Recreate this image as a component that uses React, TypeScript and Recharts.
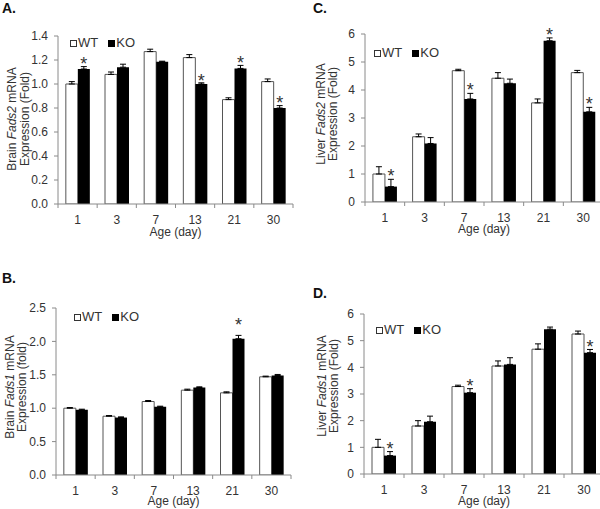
import React from 'react';
import { BarChart, Bar, XAxis, YAxis, ErrorBar, LabelList, Legend } from 'recharts';

const days = ['1', '3', '7', '13', '21', '30'];

// A. Brain Fads2
const brainFads2WT = [1.0, 1.08, 1.27, 1.22, 0.87, 1.02];
const brainFads2WTErr = [0.02, 0.02, 0.02, 0.025, 0.015, 0.022];
const brainFads2KO = [1.125, 1.14, 1.185, 1.0, 1.13, 0.8];
const brainFads2KOErr = [0.02, 0.025, 0.005, 0.01, 0.025, 0.02];
const brainFads2Sig = [true, false, false, true, true, true];

// B. Brain Fads1
const brainFads1WT = [1.0, 0.88, 1.1, 1.27, 1.23, 1.47];
const brainFads1WTErr = [0.01, 0.01, 0.015, 0.015, 0.015, 0.01];
const brainFads1KO = [0.975, 0.86, 1.02, 1.31, 2.04, 1.49];
const brainFads1KOErr = [0.01, 0.01, 0.01, 0.01, 0.05, 0.015];
const brainFads1Sig = [false, false, false, false, true, false];

// C. Liver Fads2
const liverFads2WT = [1.0, 2.33, 4.69, 4.42, 3.54, 4.62];
const liverFads2WTErr = [0.26, 0.1, 0.05, 0.2, 0.14, 0.08];
const liverFads2KO = [0.55, 2.09, 3.68, 4.24, 5.76, 3.22];
const liverFads2KOErr = [0.26, 0.21, 0.2, 0.15, 0.1, 0.16];
const liverFads2Sig = [true, false, true, false, true, true];

// D. Liver Fads1
const liverFads1WT = [1.0, 1.8, 3.28, 4.05, 4.68, 5.25];
const liverFads1WTErr = [0.3, 0.2, 0.05, 0.19, 0.2, 0.11];
const liverFads1KO = [0.69, 1.96, 3.05, 4.11, 5.43, 4.55];
const liverFads1KOErr = [0.15, 0.21, 0.15, 0.25, 0.08, 0.12];
const liverFads1Sig = [true, false, true, false, false, true];

const brainFads2Ticks = [0, 0.2, 0.4, 0.6, 0.8, 1.0, 1.2, 1.4];
const brainFads1Ticks = [0, 0.5, 1.0, 1.5, 2.0, 2.5];
const liverTicks = [0, 1, 2, 3, 4, 5, 6];

const FONT = '"Liberation Sans", Arial, sans-serif';
const TEXT = '#333';
const AXIS = '#8a8a8a';
const XAXIS_H = 28;

type Cfg = {
  letter: string;
  letterX: number;
  letterY: number;
  left: number;
  top: number;
  width: number;
  height: number;
  plot: { left: number; top: number; right: number; bottom: number };
  wt: number[];
  wtErr: number[];
  ko: number[];
  koErr: number[];
  sig: boolean[];
  yMax: number;
  yTicks: number[];
  digits: number;
  organ: string;
  gene: string;
  line2: string;
  labelX: [number, number];
  labelY: number;
  xTitleDy: number;
  legendX: number;
  legendY: number;
  starGap: number;
};

const XTick = (props: any) => {
  const { x, y, payload, index, band } = props;
  return (
    <g>
      <line x1={x - band / 2} x2={x - band / 2} y1={y} y2={y + 4} stroke={AXIS} />
      {index === days.length - 1 && (
        <line x1={x + band / 2} x2={x + band / 2} y1={y} y2={y + 4} stroke={AXIS} />
      )}
      <text x={x} y={y + 19.5} textAnchor="middle" fontSize={12} fill={TEXT} fontFamily={FONT}>
        {payload.value}
      </text>
    </g>
  );
};

const YTitle = ({ cfg }: any) => {
  const c: Cfg = cfg;
  const [x1, x2] = c.labelX;
  const cy = c.labelY;
  return (
    <g fontSize={12} fill={TEXT} fontFamily={FONT}>
      <text x={x1} y={cy} textAnchor="middle" dominantBaseline="central" transform={`rotate(-90 ${x1} ${cy})`}>
        {c.organ} <tspan fontStyle="italic">{c.gene}</tspan> mRNA
      </text>
      <text x={x2} y={cy} textAnchor="middle" dominantBaseline="central" transform={`rotate(-90 ${x2} ${cy})`}>
        {c.line2}
      </text>
    </g>
  );
};

const XTitle = ({ cfg }: any) => {
  const c: Cfg = cfg;
  return (
    <text
      x={(c.plot.left + c.plot.right) / 2}
      y={c.plot.bottom + c.xTitleDy}
      textAnchor="middle"
      fontSize={12}
      fill={TEXT}
      fontFamily={FONT}
    >
      Age (day)
    </text>
  );
};

const LegendBox = () => (
  <div style={{ display: 'flex', alignItems: 'center', fontFamily: FONT, fontSize: 13, color: TEXT, lineHeight: '14px', whiteSpace: 'nowrap' }}>
    <span style={{ display: 'inline-block', width: 5, height: 5, border: '1px solid #333', background: '#fff' }} />
    <span style={{ marginLeft: 1 }}>WT</span>
    <span style={{ display: 'inline-block', width: 7, height: 7, background: '#000', marginLeft: 10 }} />
    <span style={{ marginLeft: 1 }}>KO</span>
  </div>
);

function starRenderer(c: Cfg) {
  return (p: any) => {
    const i = p.index;
    if (i == null || !c.sig[i]) return null;
    const vb = p.viewBox || p;
    const h = Math.abs(vb.height);
    const top = Math.min(vb.y, vb.y + vb.height);
    const ppu = h / c.ko[i];
    const errTop = top - c.koErr[i] * ppu;
    const fs = 18;
    const baseline = errTop - c.starGap + 0.43 * fs;
    return (
      <text key={`star-${i}`} x={vb.x + vb.width / 2} y={baseline} textAnchor="middle" fontSize={fs} fill={TEXT} fontFamily={FONT}>
        *
      </text>
    );
  };
}

function Panel({ cfg }: { cfg: Cfg }) {
  const c = cfg;
  const data = days.map((d, i) => ({
    day: d,
    wt: c.wt[i],
    ko: c.ko[i],
    wtErr: [0, c.wtErr[i]],
    koErr: [0, c.koErr[i]],
  }));
  const band = (c.plot.right - c.plot.left) / days.length;
  return (
    <div style={{ position: 'absolute', left: c.left, top: c.top, width: c.width, height: c.height }}>
      <div
        style={{
          position: 'absolute',
          left: c.letterX,
          top: c.letterY - 12,
          fontFamily: FONT,
          fontWeight: 'bold',
          fontSize: 14,
          lineHeight: '14px',
          color: '#111',
        }}
      >
        {c.letter}
      </div>
      <BarChart
        width={c.width}
        height={c.height}
        data={data}
        barCategoryGap="20%"
        barGap={0}
        margin={{
          top: c.plot.top,
          right: c.width - c.plot.right,
          bottom: c.height - c.plot.bottom - XAXIS_H,
          left: 0,
        }}
      >
        <XAxis
          dataKey="day"
          height={XAXIS_H}
          interval={0}
          tickSize={0}
          tickMargin={0}
          tickLine={false}
          axisLine={{ stroke: AXIS }}
          tick={<XTick band={band} />}
          label={<XTitle cfg={c} />}
        />
        <YAxis
          width={c.plot.left}
          domain={[0, c.yMax]}
          ticks={c.yTicks}
          interval={0}
          allowDataOverflow
          tickSize={4}
          tickMargin={6}
          axisLine={{ stroke: AXIS }}
          tickLine={{ stroke: AXIS }}
          tick={{ fontSize: 12, fill: TEXT, fontFamily: FONT }}
          tickFormatter={(v: number) => v.toFixed(c.digits)}
          label={<YTitle cfg={c} />}
        />
        <Legend
          layout="horizontal"
          verticalAlign="middle"
          align="center"
          content={<LegendBox />}
          wrapperStyle={{ left: c.legendX, top: c.legendY - 7, width: 'auto' }}
        />
        <Bar dataKey="wt" name="WT" fill="#fff" stroke="#555" strokeWidth={1} isAnimationActive={false}>
          <ErrorBar dataKey="wtErr" width={3} stroke="#000" strokeWidth={1} direction="y" />
        </Bar>
        <Bar dataKey="ko" name="KO" fill="#000" isAnimationActive={false}>
          <ErrorBar dataKey="koErr" width={3} stroke="#000" strokeWidth={1} direction="y" />
          <LabelList dataKey="ko" content={starRenderer(c)} />
        </Bar>
      </BarChart>
    </div>
  );
}

const panelA: Cfg = {
  letter: 'A.', letterX: 2, letterY: 13,
  left: 0, top: 0, width: 300, height: 250,
  plot: { left: 58, top: 36, right: 293, bottom: 204 },
  wt: brainFads2WT, wtErr: brainFads2WTErr, ko: brainFads2KO, koErr: brainFads2KOErr, sig: brainFads2Sig,
  yMax: 1.4, yTicks: brainFads2Ticks, digits: 1,
  organ: 'Brain', gene: 'Fads2', line2: 'Expression (Fold)',
  labelX: [12, 25], labelY: 119, xTitleDy: 32,
  legendX: 70, legendY: 43, starGap: 4,
};

const panelB: Cfg = {
  letter: 'B.', letterX: 2, letterY: 33,
  left: 0, top: 250, width: 300, height: 259,
  plot: { left: 56, top: 58, right: 291, bottom: 225 },
  wt: brainFads1WT, wtErr: brainFads1WTErr, ko: brainFads1KO, koErr: brainFads1KOErr, sig: brainFads1Sig,
  yMax: 2.5, yTicks: brainFads1Ticks, digits: 1,
  organ: 'Brain', gene: 'Fads1', line2: 'Expression  (fold)',
  labelX: [10, 22], labelY: 137, xTitleDy: 30,
  legendX: 74, legendY: 67, starGap: 12,
};

const panelC: Cfg = {
  letter: 'C.', letterX: 13, letterY: 13,
  left: 300, top: 0, width: 304, height: 250,
  plot: { left: 65, top: 34, right: 303, bottom: 202 },
  wt: liverFads2WT, wtErr: liverFads2WTErr, ko: liverFads2KO, koErr: liverFads2KOErr, sig: liverFads2Sig,
  yMax: 6, yTicks: liverTicks, digits: 0,
  organ: 'Liver', gene: 'Fads2', line2: 'Expression (Fold)',
  labelX: [21, 33], labelY: 114, xTitleDy: 31,
  legendX: 74, legendY: 53, starGap: 5,
};

const panelD: Cfg = {
  letter: 'D.', letterX: 13, letterY: 48,
  left: 300, top: 250, width: 304, height: 259,
  plot: { left: 64, top: 64, right: 304, bottom: 224 },
  wt: liverFads1WT, wtErr: liverFads1WTErr, ko: liverFads1KO, koErr: liverFads1KOErr, sig: liverFads1Sig,
  yMax: 6, yTicks: liverTicks, digits: 0,
  organ: 'Liver', gene: 'Fads1', line2: 'Expression  (Fold)',
  labelX: [22, 34], labelY: 136, xTitleDy: 30.5,
  legendX: 76, legendY: 80, starGap: 4,
};

export default function App() {
  return (
    <div
      style={{
        position: 'absolute',
        left: 0,
        top: 0,
        width: 600,
        height: 509,
        overflow: 'hidden',
        background: '#fff',
      }}
    >
      <Panel cfg={panelA} />
      <Panel cfg={panelB} />
      <Panel cfg={panelC} />
      <Panel cfg={panelD} />
    </div>
  );
}
